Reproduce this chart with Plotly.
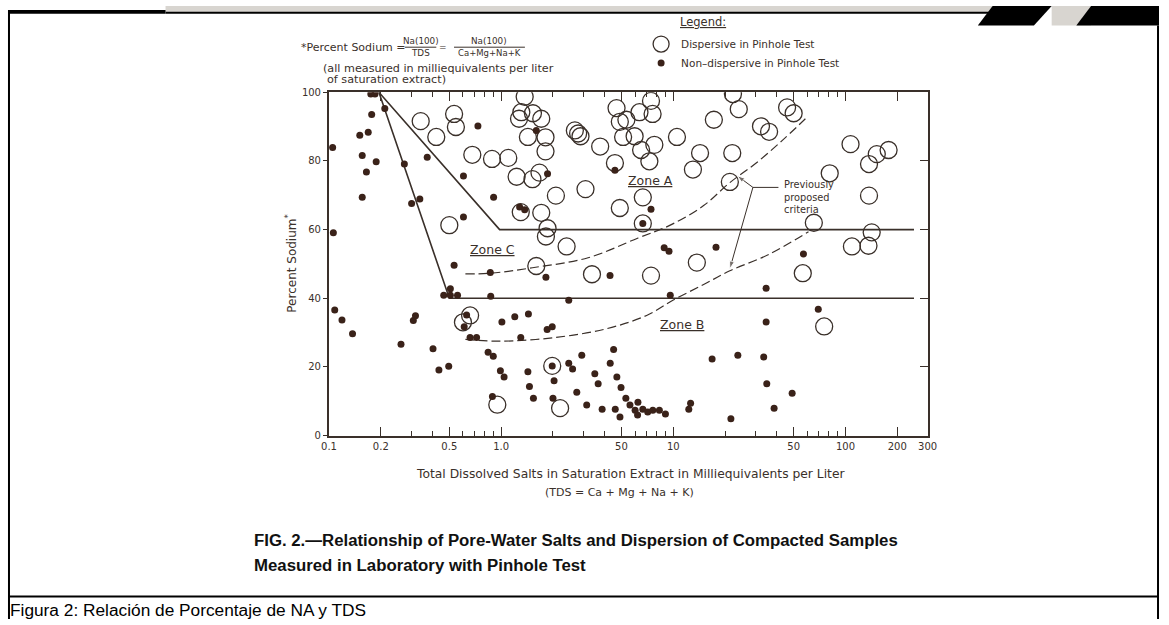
import numpy as np
import plotly.graph_objects as go

# ---------------- data ----------------
# Dispersive samples (open circles): TDS (meq/l), Percent sodium
disp_tds = [0.341, 0.42, 0.533, 0.546, 0.50,
            1.37, 1.31, 1.53, 1.71, 1.27, 1.43, 1.81, 1.81, 0.68, 0.885, 1.10,
            1.23, 1.52, 1.67, 2.08, 1.30, 1.71, 1.86, 1.82, 2.40, 1.60,
            2.68, 2.80, 2.89, 3.76, 3.09, 4.58, 4.68, 4.89, 5.34, 5.11, 5.96,
            6.36, 7.42, 7.58, 6.50, 7.76, 7.26, 6.65, 4.89, 6.65,
            10.5, 14.3, 13.0, 17.2, 22.2, 24.0, 22.0, 21.3, 32.3, 36.0, 45.8, 50.0,
            13.7, 3.37, 7.42,
            107, 152, 178, 137, 81, 137, 65.5, 142, 109, 136, 56.5, 75.2,
            0.60, 0.66, 0.95, 2.2, 1.98]
disp_na = [91.6, 87.0, 93.7, 89.9, 61.3,
           98.7, 94.2, 93.9, 92.3, 92.3, 87.0, 86.9, 82.8, 81.8, 80.6, 80.9,
           75.4, 74.7, 76.6, 69.9, 65.1, 64.9, 60.4, 58.0, 55.1, 49.4,
           88.9, 88.0, 87.2, 84.2, 71.8, 79.4, 95.4, 91.4, 92.0, 87.0, 87.2,
           94.2, 97.5, 93.7, 83.2, 84.7, 79.9, 69.4, 66.3, 61.8,
           87.0, 82.3, 77.5, 92.0, 99.5, 95.1, 82.3, 73.9, 90.1, 88.5, 95.6, 93.9,
           50.4, 47.0, 46.6,
           84.9, 82.0, 83.2, 79.1, 76.4, 69.9, 62.0, 59.2, 55.1, 55.3, 47.3, 31.8,
           33.0, 35.0, 9.0, 8.0, 20.3]

# Non-dispersive samples (solid dots)
nondisp_tds = [0.105, 0.106, 0.151, 0.169, 0.177, 0.156, 0.165, 0.156, 0.188, 0.175, 0.185,
               0.211, 0.274, 0.302, 0.337, 0.372, 0.533,
               0.733, 1.60, 0.604, 1.86, 0.904, 1.28, 1.37, 0.604, 4.58, 7.42, 6.65,
               8.85, 9.44, 17.7, 57.0, 0.865, 1.82, 4.29, 69.5,
               0.108, 0.119, 0.137, 0.262, 0.309, 0.318, 0.402, 0.435, 0.496,
               0.464, 0.507, 0.507, 0.558,
               0.63, 0.61, 0.66, 0.72, 0.87, 0.84, 0.90, 0.99, 1.04, 0.89, 1.01, 1.20,
               1.30, 1.44, 1.43, 1.46, 1.54, 1.85, 1.98, 2.03, 2.00, 2.47, 2.47, 2.60,
               2.75, 2.94, 3.14, 3.50, 3.66, 3.86, 4.30, 4.50, 4.70, 4.97, 5.30, 5.60,
               6.00, 6.23, 6.65, 7.10, 7.60, 8.30, 9.00, 4.60, 4.90, 6.20, 9.60,
               12.3, 12.6, 16.8, 21.6, 23.7, 34.6, 33.5, 34.9, 38.5, 49.0, 34.6, 1.98]
nondisp_na = [83.9, 59.1, 87.5, 88.4, 93.5, 81.6, 76.8, 69.4, 79.8, 99.5, 99.5,
              95.3, 79.1, 67.6, 68.9, 81.1, 49.6,
              90.2, 88.9, 75.6, 76.3, 69.4, 66.6, 65.8, 63.7, 77.3, 65.9, 61.8,
              54.7, 53.7, 54.9, 52.9, 47.5, 46.1, 46.6, 36.8,
              36.6, 33.7, 29.7, 26.6, 33.5, 34.9, 25.3, 19.1, 20.2,
              40.9, 42.8, 40.9, 40.9,
              35.1, 31.7, 28.6, 28.6, 40.6, 24.3, 23.1, 18.9, 17.1, 11.4, 33.1, 34.6,
              28.6, 35.4, 18.6, 14.3, 10.9, 30.9, 31.7, 16.0, 10.9, 39.4, 21.1, 19.4,
              12.6, 23.4, 8.9, 18.0, 15.1, 7.7, 21.1, 25.1, 17.1, 14.0, 10.9, 8.9,
              7.4, 9.7, 7.7, 6.9, 7.4, 7.4, 6.3, 7.7, 5.4, 6.0, 40.9,
              7.7, 9.4, 22.3, 4.9, 23.4, 33.1, 22.9, 15.1, 8.0, 12.3, 42.9, 20.3]

# Zone boundaries (solid) and previously proposed criteria (dashed)
bound_a_tds = [0.195, 0.98, 250]
bound_a_na = [100, 60, 60]
bound_b_tds = [0.195, 0.50, 250]
bound_b_na = [100, 40, 40]
crit_up_tds = [0.62, 0.867, 1.52, 3.2, 6.2, 9.6, 15, 21.3, 30.3, 43, 58.5]
crit_up_na = [47.1, 47.3, 48.9, 51.8, 57.5, 61.3, 67, 73.7, 79.4, 86, 92.3]
crit_lo_tds = [0.62, 1.0, 2.0, 4.0, 7.0, 10, 15, 21.3, 36, 61]
crit_lo_na = [28.0, 27.5, 28.5, 31.0, 35.0, 39.5, 44.0, 48.0, 52.8, 59.4]
# leader lines of the "Previously proposed criteria" note: tail, then tip
lead_up_tds, lead_up_na = [29.0, 23.5], [72.3, 75.7]
lead_lo_tds, lead_lo_na = [29.0, 21.3], [72.3, 48.6]
lead_tx_tds, lead_tx_na = [29.0, 40.8], [72.3, 72.3]

x_tickvals = [0.1, 0.2, 0.5, 1, 5, 10, 50, 100, 200, 300]
x_ticktext = ["0.1", "0.2", "0.5", "1.0", "50", "10", "50", "100", "200", "300"]
x_minor = [0.3, 0.4, 0.6, 0.7, 0.8, 0.9, 2, 3, 4, 6, 7, 8, 9, 20, 30, 40, 60, 70, 80, 90]
y_tickvals = [0, 20, 40, 60, 80, 100]

# ---------------- styling ----------------
W, H = 1169, 625
X0, X1, YT, YB = 326, 934, 88, 438
INK = "#3a302a"
DOT = "#3a2219"
FONT = "DejaVu Sans"


def px(x):
    return x / W


def py(y):
    return 1 - y / H


fig = go.Figure()

line_kw = dict(mode="lines", showlegend=False, hoverinfo="skip")
fig.add_trace(go.Scatter(x=bound_a_tds, y=bound_a_na, line=dict(color=INK, width=1.6), **line_kw))
fig.add_trace(go.Scatter(x=bound_b_tds, y=bound_b_na, line=dict(color=INK, width=1.6), **line_kw))
fig.add_trace(go.Scatter(x=crit_up_tds, y=crit_up_na, line=dict(color=INK, width=1.2, dash="9px,4px", shape="spline"), **line_kw))
fig.add_trace(go.Scatter(x=crit_lo_tds, y=crit_lo_na, line=dict(color=INK, width=1.2, dash="9px,4px", shape="spline"), **line_kw))
for lx, ly, arrow in ((lead_up_tds, lead_up_na, True), (lead_lo_tds, lead_lo_na, True),
                      (lead_tx_tds, lead_tx_na, False)):
    fig.add_trace(go.Scatter(x=lx, y=ly, mode="lines+markers", showlegend=False, hoverinfo="skip",
                             line=dict(color=INK, width=1),
                             marker=dict(symbol=["circle", "arrow"], size=[0, 8 if arrow else 0],
                                         angleref="previous", color=INK)))

fig.add_trace(go.Scatter(x=disp_tds, y=disp_na, mode="markers", name="Dispersive in Pinhole Test",
                         marker=dict(symbol="circle-open", size=17, color=INK, line=dict(width=1.3))))
fig.add_trace(go.Scatter(x=nondisp_tds, y=nondisp_na, mode="markers", name="Non–dispersive in Pinhole Test",
                         marker=dict(symbol="circle", size=7, color=DOT)))
# helper trace for the mirrored (top / right) axes
fig.add_trace(go.Scatter(x=[1], y=[50], xaxis="x2", yaxis="y2", mode="markers",
                         marker=dict(opacity=0), showlegend=False, hoverinfo="skip"))

xr = [-1, np.log10(300)]
tickfont = dict(family=FONT, size=10, color=INK)
fig.update_layout(
    width=W, height=H, autosize=False,
    margin=dict(l=0, r=0, t=0, b=0),
    paper_bgcolor="white", plot_bgcolor="white",
    font=dict(family=FONT, color=INK),
    showlegend=True,
    legend=dict(x=px(643), y=py(24), xanchor="left", yanchor="top", bgcolor="rgba(0,0,0,0)",
                font=dict(family=FONT, size=10.5, color=INK), itemsizing="trace", tracegroupgap=0),
    xaxis=dict(type="log", range=xr, domain=[px(X0), px(X1)], anchor="y",
               showline=True, linecolor=INK, linewidth=2, showgrid=False, zeroline=False,
               ticks="inside", tickvals=x_tickvals, ticktext=x_ticktext, ticklen=9, tickwidth=1.2,
               tickcolor=INK, tickfont=tickfont,
               minor=dict(tickvals=x_minor, ticks="inside", ticklen=5, tickwidth=1, tickcolor=INK, showgrid=False)),
    yaxis=dict(range=[0, 100], domain=[py(YB), py(YT)], anchor="x",
               showline=True, linecolor=INK, linewidth=2, showgrid=False, zeroline=False,
               ticks="outside", tickvals=y_tickvals, ticklen=4, tickwidth=1.2, tickcolor=INK,
               tickfont=tickfont),
    xaxis2=dict(type="log", range=xr, overlaying="x", side="top", anchor="y2",
                showline=True, linecolor=INK, linewidth=2, showgrid=False, zeroline=False,
                ticks="inside", tickvals=x_tickvals, ticklen=9, tickwidth=1.2, tickcolor=INK,
                showticklabels=False,
                minor=dict(tickvals=x_minor, ticks="inside", ticklen=5, tickwidth=1, tickcolor=INK, showgrid=False)),
    yaxis2=dict(range=[0, 100], overlaying="y", side="right", anchor="x2",
                showline=True, linecolor=INK, linewidth=2, showgrid=False, zeroline=False,
                ticks="inside", tickvals=[20, 40, 60, 80], ticklen=8, tickwidth=1.2, tickcolor=INK,
                showticklabels=False),
)

ann = []


def ptext(text, x, y, size=10, xanchor="left", yanchor="middle", color=INK, family=FONT, **kw):
    ann.append(dict(text=text, x=px(x), y=py(y), xref="paper", yref="paper", showarrow=False,
                    xanchor=xanchor, yanchor=yanchor, font=dict(size=size, color=color, family=family), **kw))


def dtext(text, xv, yv, size=10, xanchor="center", **kw):
    ann.append(dict(text=text, x=np.log10(xv), y=yv, xref="x", yref="y", showarrow=False,
                    xanchor=xanchor, yanchor="middle", font=dict(size=size, color=INK, family=FONT), **kw))


# formula block
ptext("*Percent Sodium =", 296, 42, size=11)
ptext("Na(100)", 419, 36, size=8.8, xanchor="center")
ptext("TDS", 419, 48, size=8.8, xanchor="center")
ptext("=", 442, 42, size=9, xanchor="center")
ptext("Na(100)", 489, 36, size=8.8, xanchor="center")
ptext("Ca+Mg+Na+K", 489, 48, size=8.5, xanchor="center")
ptext("(all measured in milliequivalents per liter", 318, 64, size=11.2)
ptext("of saturation extract)", 322, 75, size=11.2)

# legend title
ptext("<u>Legend:</u>", 680, 16, size=11.5)

# axis titles
ann.append(dict(text="Percent Sodium<sup>*</sup>", x=px(277), y=py(263), xref="paper", yref="paper",
                showarrow=False, textangle=-90, font=dict(size=12, color=INK, family=FONT)))
ptext("Total Dissolved Salts in Saturation Extract in Milliequivalents per Liter", 632, 477, size=12.3,
      xanchor="center")
ptext("(TDS = Ca + Mg + Na + K)", 621, 496, size=11, xanchor="center")

# zone labels
dtext("<u>Zone A</u>", 7.36, 74.2, size=12.5)
dtext("<u>Zone C</u>", 0.885, 54.2, size=12.5)
dtext("<u>Zone B</u>", 11.2, 32.3, size=12.5)

# previously proposed criteria
dtext("Previously<br>proposed<br>criteria", 42.5, 69.6, size=9.8, xanchor="left", align="left")

# captions
CAP = "Liberation Sans, Arial"
ptext("<b>FIG. 2.—Relationship of Pore-Water Salts and Dispersion of Compacted Samples</b>", 248, 545,
      size=16.8, color="#111111", family=CAP)
ptext("<b>Measured in Laboratory with Pinhole Test</b>", 248, 570, size=16.8, color="#111111", family=CAP)
ptext("Figura 2: Relación de Porcentaje de NA y TDS", 0, 616, size=17.3, color="#000000", family=CAP)

fig.update_layout(annotations=ann)

# page frame / scan edge decorations
shapes = [
    dict(type="rect", xref="paper", yref="paper", x0=px(160), x1=px(1000), y0=py(0), y1=py(6),
         fillcolor="#d8d5d0", line=dict(width=0), layer="below"),
    dict(type="rect", xref="paper", yref="paper", x0=px(0), x1=px(160), y0=py(4), y1=py(8),
         fillcolor="black", line=dict(width=0)),
    dict(type="line", xref="paper", yref="paper", x0=px(160), x1=px(1000), y0=py(7), y1=py(7),
         line=dict(color="black", width=2)),
    dict(type="path", xref="paper", yref="paper",
         path=f"M {px(1000)} {py(0)} L {px(1060)} {py(0)} L {px(1042)} {py(20)} L {px(985)} {py(20)} Z",
         fillcolor="black", line=dict(width=0)),
    dict(type="path", xref="paper", yref="paper",
         path=f"M {px(1100)} {py(0)} L {px(1169)} {py(0)} L {px(1169)} {py(20)} L {px(1085)} {py(20)} Z",
         fillcolor="black", line=dict(width=0)),
    dict(type="rect", xref="paper", yref="paper", x0=px(1060), x1=px(1100), y0=py(0), y1=py(20),
         fillcolor="#d8d5d0", line=dict(width=0), layer="below"),
    dict(type="line", xref="paper", yref="paper", x0=px(1), x1=px(1), y0=py(4), y1=py(625),
         line=dict(color="black", width=2)),
    dict(type="line", xref="paper", yref="paper", x0=px(1168), x1=px(1168), y0=py(20), y1=py(625),
         line=dict(color="black", width=2)),
    dict(type="line", xref="paper", yref="paper", x0=px(0), x1=px(1169), y0=py(602), y1=py(602),
         line=dict(color="black", width=2)),
    # formula fraction bars
    dict(type="line", xref="paper", yref="paper", x0=px(403), x1=px(435), y0=py(42), y1=py(42),
         line=dict(color=INK, width=1)),
    dict(type="line", xref="paper", yref="paper", x0=px(453), x1=px(525), y0=py(42), y1=py(42),
         line=dict(color=INK, width=1)),
]
fig.update_layout(shapes=shapes)

fig.write_html("out.html")
